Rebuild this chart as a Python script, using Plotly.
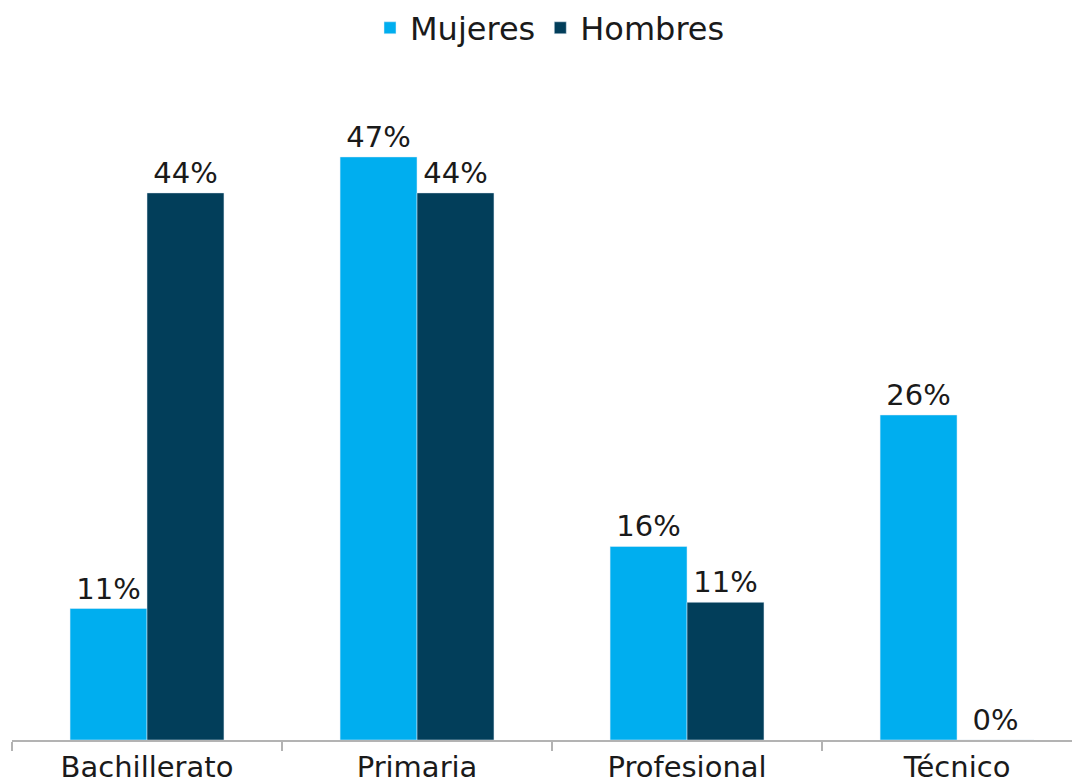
import plotly.graph_objects as go

categories = ['Bachillerato', 'Primaria', 'Profesional', 'Técnico']
mujeres = [10.6, 47.0, 15.6, 26.2]
hombres = [44.1, 44.1, 11.1, 0.0]

FONT = 'Century Gothic, DejaVu Sans, sans-serif'

fig = go.Figure()
fig.add_trace(go.Bar(x=categories, y=mujeres, name='Mujeres', marker_color='#00AEEF',
                     texttemplate='%{y:.0f}%', textposition='outside', cliponaxis=False,
                     textfont=dict(size=29, color='#1a1a1a')))
fig.add_trace(go.Bar(x=categories, y=hombres, name='Hombres', marker_color='#023E5A',
                     texttemplate='%{y:.0f}%', textposition='outside', cliponaxis=False,
                     textfont=dict(size=29, color='#1a1a1a')))

# the page body has an 8px margin, so margins are trimmed by 8
fig.update_layout(
    width=1080, height=783,
    barmode='group', bargap=0.43, bargroupgap=0,
    plot_bgcolor='white', paper_bgcolor='white',
    font=dict(family=FONT, size=29, color='#1a1a1a'),
    margin=dict(l=4, r=0, t=72, b=51),
    legend=dict(orientation='h', x=0.5, xanchor='center', yref='container',
                y=0.9745, yanchor='middle', font=dict(size=32), itemwidth=30,
                tracegroupgap=0),
    xaxis=dict(range=[-0.5, 3.485], showline=True, linecolor='#b3b3b3', linewidth=2,
               ticks='outside', tickson='boundaries', ticklen=9, tickcolor='#b3b3b3',
               tickwidth=2, tickfont=dict(size=29)),
    yaxis=dict(range=[0, 53.2], visible=False),
    showlegend=True,
)

fig.write_html('out.html')
